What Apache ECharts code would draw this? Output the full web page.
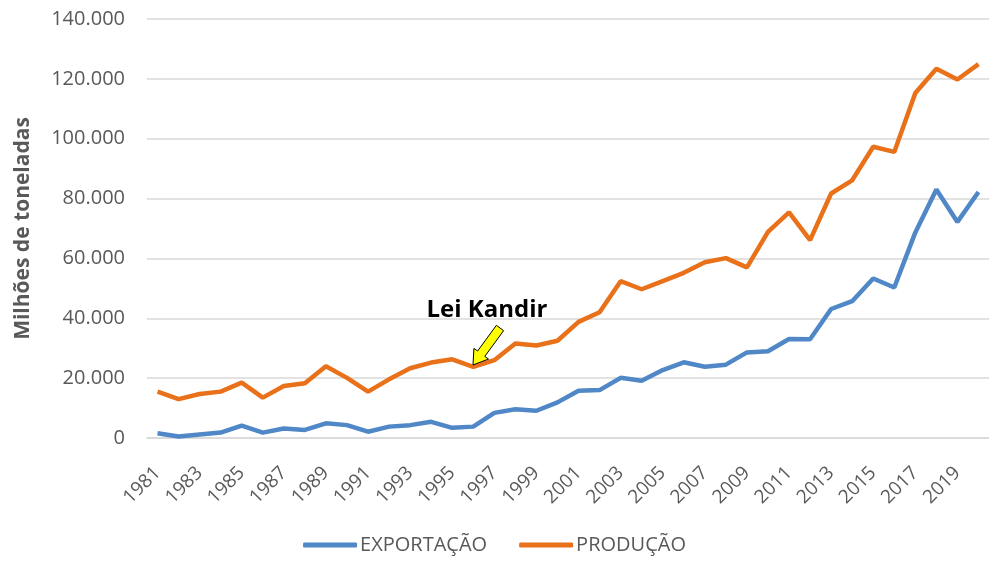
<!DOCTYPE html>
<html>
<head>
<meta charset="utf-8">
<script src="https://cdn.jsdelivr.net/npm/echarts@6/dist/echarts.min.js"></script>
<style>
  html, body { margin: 0; padding: 0; background: #fff; }
  #main { width: 989px; height: 561px; }
</style>
</head>
<body>
<div id="main"></div>
<script>
var anos = [];
for (var a = 1981; a <= 2020; a++) { anos.push(String(a)); }

// mil toneladas
var exportacao = [
    1600, 500, 1200, 1800, 4100, 1800, 3200, 2700, 4900, 4300,
    2100, 3800, 4300, 5400, 3400, 3800, 8400, 9600, 9100, 11900,
    15800, 16000, 20100, 19100, 22700, 25300, 23800, 24500, 28600, 29000,
    33100, 33000, 43100, 45700, 53300, 50300, 68700, 83000, 72200, 82200
];
var producao = [
    15500, 13000, 14700, 15500, 18500, 13500, 17400, 18300, 24000, 20100,
    15500, 19600, 23300, 25200, 26300, 23800, 26000, 31600, 30900, 32500,
    38800, 42000, 52400, 49700, 52400, 55200, 58700, 60100, 57000, 68900,
    75400, 66100, 81700, 86100, 97300, 95600, 115300, 123400, 119800, 124900
];
var ticksY = [0, 20000, 40000, 60000, 80000, 100000, 120000, 140000];

function fmt(v) {
    return String(v).replace(/\B(?=(\d{3})+(?!\d))/g, '.');
}

var myChart = echarts.init(document.getElementById('main'));
var cinza = '#595959';
var option = {
    animation: false,
    color: ['#5087C7', '#E8711A'],
    grid: { left: 147, right: 0, top: 19, bottom: 123 },
    legend: {
        bottom: 1,
        left: 'center',
        icon: 'roundRect',
        itemWidth: 54,
        itemHeight: 5,
        itemGap: 32,
        textStyle: { color: cinza, fontSize: 20, fontFamily: 'Open Sans', padding: [0, 0, 0, -2] },
        data: ['EXPORTAÇÃO', 'PRODUÇÃO']
    },
    xAxis: {
        type: 'category',
        data: anos,
        boundaryGap: true,
        axisLine: { lineStyle: { color: '#D9D9D9', width: 1.5 } },
        axisTick: { show: false },
        axisLabel: {
            interval: 1,
            rotate: 45,
            color: cinza,
            fontSize: 19,
            fontFamily: 'Open Sans',
            margin: 32
        }
    },
    yAxis: {
        type: 'value',
        min: ticksY[0],
        max: ticksY[ticksY.length - 1],
        interval: 20000,
        name: 'Milhões de toneladas',
        nameLocation: 'middle',
        nameGap: 113,
        nameMoveOverlap: false,
        nameTextStyle: { color: cinza, fontSize: 21, fontWeight: 'bold', fontFamily: 'Open Sans' },
        axisLine: { show: false },
        axisTick: { show: false },
        splitLine: { lineStyle: { color: '#D9D9D9', width: 1.5 } },
        axisLabel: {
            color: cinza,
            fontSize: 20,
            fontFamily: 'Open Sans',
            margin: 22,
            formatter: fmt
        }
    },
    series: [
        {
            name: 'EXPORTAÇÃO',
            type: 'line',
            data: exportacao,
            showSymbol: false,
            lineStyle: { width: 4.5 }
        },
        {
            name: 'PRODUÇÃO',
            type: 'line',
            data: producao,
            showSymbol: false,
            lineStyle: { width: 4.5 }
        }
    ],
    graphic: [
        {
            type: 'text',
            style: {
                x: 487,
                y: 310,
                text: 'Lei Kandir',
                align: 'center',
                verticalAlign: 'middle',
                fill: '#000',
                font: 'bold 24px "Open Sans"'
            }
        },
        {
            type: 'polygon',
            shape: {
                points: [[503.6, 330.7], [496.4, 325.3], [477.6, 351.0], [473.9, 348.4],
                         [473, 365], [488.5, 359.0], [484.8, 356.4]]
            },
            style: { fill: '#FFFF00', stroke: '#000', lineWidth: 1 },
            z: 100
        }
    ]
};

myChart.setOption(option);
</script>
</body>
</html>
